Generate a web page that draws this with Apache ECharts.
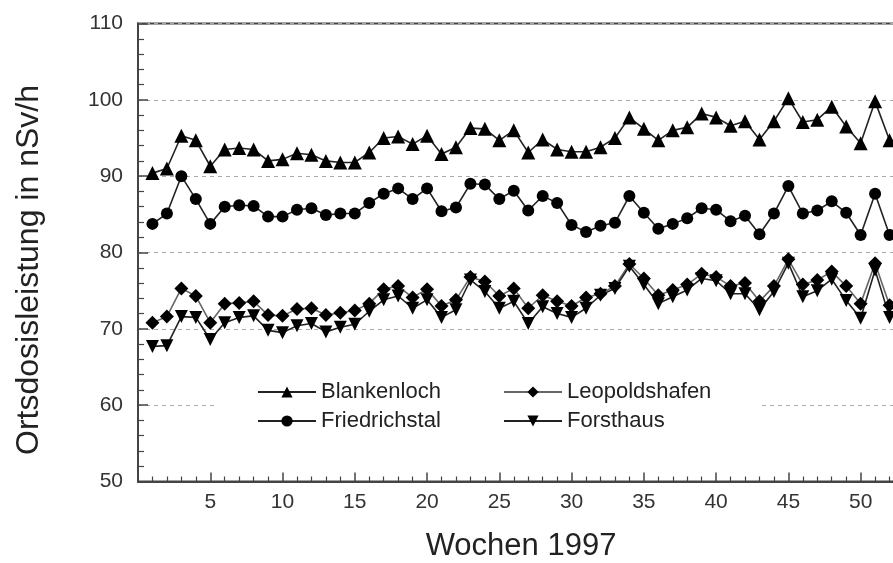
<!DOCTYPE html>
<html>
<head>
<meta charset="utf-8">
<script src="https://cdn.jsdelivr.net/npm/echarts@6/dist/echarts.min.js"></script>
<style>html,body{margin:0;padding:0;background:#fff;}#c{width:893px;height:563px;}</style>
</head>
<body>
<div id="c"></div>
<script>
const weeks = [1,2,3,4,5,6,7,8,9,10,11,12,13,14,15,16,17,18,19,20,21,22,23,24,25,26,27,28,29,30,31,32,33,34,35,36,37,38,39,40,41,42,43,44,45,46,47,48,49,50,51,52];
const blankenloch = [90.4,91.0,95.3,94.7,91.3,93.5,93.7,93.5,92.0,92.2, 93.0,92.8,92.0,91.8,91.8,93.1,95.0,95.2,94.2,95.3, 92.9,93.8,96.3,96.2,94.7,96.0,93.1,94.8,93.5,93.2, 93.2,93.8,95.0,97.7,96.2,94.7,96.0,96.4,98.2,97.7, 96.6,97.2,94.8,97.2,100.2,97.1,97.4,99.1,96.5,94.3, 99.8,94.7];
const friedrichstal = [83.75,85.1,90.0,87.0,83.75,86.0,86.2,86.1,84.7,84.7, 85.6,85.8,84.9,85.1,85.1,86.5,87.7,88.4,87.0,88.4, 85.4,85.9,89.0,88.9,87.0,88.1,85.5,87.4,86.5,83.6, 82.7,83.5,83.9,87.4,85.2,83.1,83.75,84.5,85.8,85.6, 84.1,84.8,82.4,85.1,88.7,85.1,85.5,86.7,85.2,82.3, 87.7,82.3];
const leopoldshafen = [70.8,71.6,75.3,74.3,70.8,73.3,73.4,73.6,71.8,71.7, 72.6,72.7,71.8,72.1,72.4,73.3,75.2,75.6,74.1,75.2, 73.0,73.8,76.8,76.2,74.3,75.3,72.7,74.4,73.6,73.0, 74.1,74.6,75.6,78.5,76.6,74.4,75.1,75.8,77.2,76.8, 75.6,76.0,73.6,75.6,79.1,75.8,76.4,77.5,75.6,73.3, 78.6,73.1];
const forsthaus = [67.7,67.8,71.6,71.5,68.6,70.8,71.5,71.7,69.8,69.5, 70.4,70.7,69.6,70.2,70.6,72.3,73.8,74.3,72.7,73.8, 71.5,72.5,76.4,74.9,72.7,73.6,70.7,72.9,72.0,71.5, 72.7,74.4,75.3,78.2,75.8,73.3,74.2,75.1,76.6,76.3, 74.6,74.6,72.5,74.9,78.6,74.2,75.0,76.5,73.7,71.4, 77.7,71.5];
const seriesNames = ['Blankenloch','Friedrichstal','Leopoldshafen','Forsthaus'];
const xTitle = 'Wochen 1997';
const yTitle = 'Ortsdosisleistung in nSv/h';

const FONT = 'Liberation Sans, Arial, sans-serif';
function pairs(vals){ return weeks.map((w,i)=>[w, vals[i]]); }
function mkSeries(name, vals, symbol, size, lineColor){
  return {
    name, type:'line', data: pairs(vals), symbol, symbolSize:size,
    itemStyle:{color:'#000'}, lineStyle:{color:lineColor, width:1.6},
    emphasis:{disabled:true}, animation:false
  };
}
const chart = echarts.init(document.getElementById('c'), null, {renderer:'canvas'});
chart.setOption({
  backgroundColor:'#fff',
  animation:false,
  grid:{left:138, top:23.5, width:766, bottom:81.5, containLabel:false, outerBoundsMode:'none',
        show:true, borderColor:'#444', borderWidth:2, backgroundColor:'transparent'},
  xAxis:{
    type:'value', min:0, max:53, interval:5,
    axisLine:{show:true, lineStyle:{color:'#444', width:2}},
    axisTick:{show:true, inside:true, length:9, lineStyle:{color:'#444', width:1.5}},
    minorTick:{show:true, splitNumber:5, length:5, lineStyle:{color:'#444', width:1.2}},
    splitLine:{show:false},
    axisLabel:{fontFamily:FONT, fontSize:21, color:'#333', margin:10,
      formatter:v=> (v>0 && v%5===0) ? String(v) : ''},
    name:xTitle, nameLocation:'middle', nameGap:49,
    nameTextStyle:{fontFamily:FONT, fontSize:31, color:'#222'}
  },
  yAxis:{
    type:'value', min:50, max:110, interval:10,
    axisLine:{show:true, lineStyle:{color:'#444', width:2}},
    axisTick:{show:true, inside:true, length:10, lineStyle:{color:'#444', width:1.5}},
    minorTick:{show:true, splitNumber:5, length:6, lineStyle:{color:'#444', width:1.2}},
    splitLine:{show:true, lineStyle:{color:'#aaa', type:[4,4], width:1}},
    axisLabel:{fontFamily:FONT, fontSize:21, color:'#333', margin:15}
  },
  graphic:[
    {type:'rect', z:1, shape:{x:216, y:378, width:544, height:62}, style:{fill:'#fff'}},
    {type:'text', z:5, x:29, y:270, rotation:Math.PI/2,
     style:{text:yTitle, font:'32px Liberation Sans, Arial, sans-serif', fill:'#222', align:'center', verticalAlign:'middle'}}
  ],
  legend:[
    {data:['Blankenloch','Friedrichstal'], orient:'vertical', left:257, top:381, padding:0,
     itemWidth:58, itemHeight:14, itemGap:7, z:5,
     textStyle:{fontFamily:FONT, fontSize:22, color:'#222'}},
    {data:['Leopoldshafen','Forsthaus'], orient:'vertical', left:503, top:381, padding:0,
     itemWidth:58, itemHeight:14, itemGap:7, z:5,
     textStyle:{fontFamily:FONT, fontSize:22, color:'#222'}}
  ],
  series:[
    mkSeries('Blankenloch', blankenloch, 'triangle', 14, '#222'),
    mkSeries('Friedrichstal', friedrichstal, 'circle', 12, '#222'),
    mkSeries('Leopoldshafen', leopoldshafen, 'diamond', 14, '#666'),
    mkSeries('Forsthaus', forsthaus, 'path://M0,0 L10,0 L5,10 Z', 13, '#222')
  ]
});
</script>
</body>
</html>
